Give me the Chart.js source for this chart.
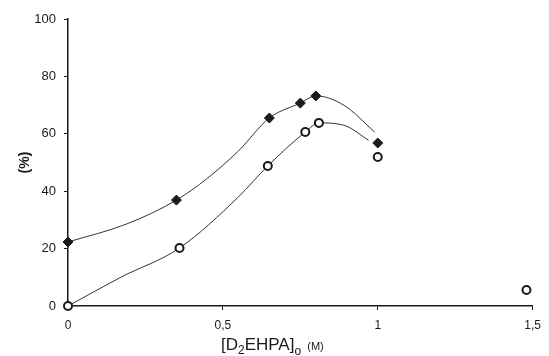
<!DOCTYPE html>
<html>
<head>
<meta charset="utf-8">
<script src="https://cdn.jsdelivr.net/npm/chart.js@4/dist/chart.umd.min.js"></script>
<style>
  html, body { margin: 0; padding: 0; background: #fff; }
  #wrap { width: 549px; height: 356px; }
</style>
</head>
<body>
<div id="wrap"><canvas id="chart"></canvas></div>
<script>
// points
const diamondX = [0, 0.35, 0.65, 0.75, 0.8, 1.0];
const diamondY = [22.3, 36.9, 65.5, 70.7, 73.2, 56.8];
const circleX = [0, 0.36, 0.645, 0.766, 0.81, 1.0, 1.48];
const circleY = [0, 20.2, 48.8, 60.6, 63.8, 51.9, 5.6];

// hand-drawn fit curves (traced)
const upperCurveX = [0, 0.19, 0.35, 0.45, 0.55, 0.65, 0.75, 0.8, 0.89, 0.99];
const upperCurveY = [22.3, 28.6, 36.9, 44.5, 54, 65.5, 70.7, 73.2, 70, 60.6];
const lowerCurveX = [0, 0.17, 0.36, 0.55, 0.645, 0.766, 0.81, 0.89, 0.97];
const lowerCurveY = [0, 10, 20.2, 38, 48.8, 60.6, 63.8, 63, 57.8];

const yTicks = [0, 20, 40, 60, 80, 100];
const xTicks = [0, 0.5, 1, 1.5];

const ink = '#1a1a1a';

function toPoints(xs, ys) {
    return xs.map((x, i) => ({ x: x, y: ys[i] }));
}

// x axis title with subscripts
const xTitlePlugin = {
    id: 'xTitle',
    afterDraw(chart) {
        const c = chart.ctx;
        c.save();
        c.fillStyle = ink;
        c.textBaseline = 'alphabetic';
        c.textAlign = 'left';
        const parts = [
            { t: '[D', f: '17px "Liberation Sans", Arial', dy: 0 },
            { t: '2', f: '12px "Liberation Sans", Arial', dy: 4 },
            { t: 'EHPA]', f: '17px "Liberation Sans", Arial', dy: 0 },
            { t: 'o', f: '12px "Liberation Sans", Arial', dy: 5 },
            { t: '  (M)', f: '11px "Liberation Sans", Arial', dy: 0 }
        ];
        let x = 221;
        const y = 350;
        parts.forEach(p => {
            c.font = p.f;
            c.fillText(p.t, x, y + p.dy);
            x += c.measureText(p.t).width;
        });
        c.restore();
    }
};

new Chart(document.getElementById('chart'), {
    type: 'scatter',
    data: {
        datasets: [
            {
                data: toPoints(diamondX, diamondY),
                pointStyle: 'rectRot',
                pointRadius: 5,
                backgroundColor: ink,
                borderColor: ink,
                borderWidth: 1,
                showLine: false,
                clip: false
            },
            {
                data: toPoints(circleX, circleY),
                pointStyle: 'circle',
                pointRadius: 4,
                backgroundColor: '#fff',
                borderColor: ink,
                borderWidth: 2,
                showLine: false,
                clip: false
            },
            {
                data: toPoints(upperCurveX, upperCurveY),
                showLine: true,
                pointRadius: 0,
                borderColor: '#333',
                borderWidth: 1,
                cubicInterpolationMode: 'monotone'
            },
            {
                data: toPoints(lowerCurveX, lowerCurveY),
                showLine: true,
                pointRadius: 0,
                borderColor: '#333',
                borderWidth: 1,
                cubicInterpolationMode: 'monotone'
            }
        ]
    },
    options: {
        responsive: true,
        maintainAspectRatio: false,
        animation: false,
        layout: { padding: { top: 19, right: 12, left: 0, bottom: 0 } },
        plugins: {
            legend: { display: false },
            tooltip: { enabled: false }
        },
        scales: {
            x: {
                type: 'linear',
                min: 0,
                max: 1.5,
                afterFit(scale) { scale.height = 50; },
                afterBuildTicks(scale) { scale.ticks = xTicks.map(v => ({ value: v })); },
                grid: { drawOnChartArea: false, tickLength: 4, color: ink },
                border: { color: ink, width: 1.5 },
                ticks: {
                    color: ink,
                    padding: 8,
                    font: { family: '"Liberation Sans", Arial', size: 12 },
                    callback: v => String(v).replace('.', ',')
                }
            },
            y: {
                min: 0,
                max: 100,
                afterFit(scale) { scale.width = 68; },
                afterBuildTicks(scale) { scale.ticks = yTicks.map(v => ({ value: v })); },
                grid: { drawOnChartArea: false, tickLength: 4, color: ink },
                border: { color: ink, width: 1.5 },
                ticks: {
                    color: ink,
                    padding: 8,
                    font: { family: '"Liberation Sans", Arial', size: 13 }
                },
                title: {
                    display: true,
                    text: '(%)',
                    color: ink,
                    font: { family: '"Liberation Sans", Arial', size: 14, weight: 'bold' },
                    padding: { top: 17, bottom: 0 }
                }
            }
        }
    },
    plugins: [xTitlePlugin]
});
</script>
</body>
</html>
